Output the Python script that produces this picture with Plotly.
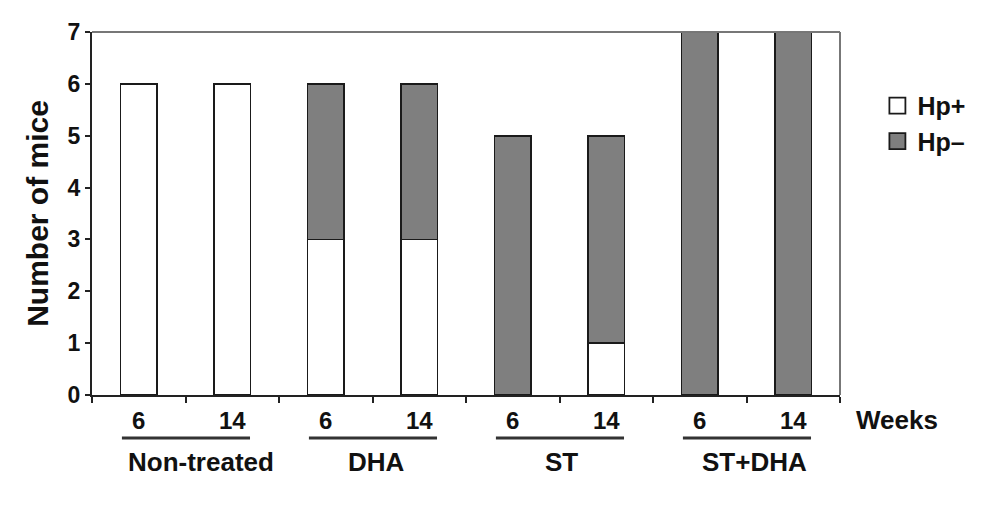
import plotly.graph_objects as go

# ---- data ----
groups = ["Non-treated", "DHA", "ST", "ST+DHA"]
weeks = ["6", "14"]
hp_pos = [6, 6, 3, 3, 0, 1, 0, 0]   # Hp+ (white, bottom)
hp_neg = [0, 0, 3, 3, 5, 4, 7, 7]   # Hp- (gray, top)
y_ticks = [0, 1, 2, 3, 4, 5, 6, 7]

FONT = "Liberation Sans, Arial, sans-serif"
n = len(hp_pos)
xpos = [i + 0.5 for i in range(n)]
bar_w = 0.39
series = [("Hp+", hp_pos, "white"), ("Hp\u2013", hp_neg, "#7f7f7f")]

fig = go.Figure()
for name, vals, col in series:
    fig.add_trace(go.Bar(
        x=xpos, y=vals, width=bar_w, name=name, legendgroup=name, showlegend=False,
        marker=dict(color=col, line=dict(color="#1a1a1a", width=1.6)),
    ))
# legend entries with larger square swatches
for name, vals, col in series:
    fig.add_trace(go.Scatter(
        x=[None], y=[None], mode="markers", name=name, legendgroup=name,
        marker=dict(symbol="square", size=16, color=col, line=dict(color="#1a1a1a", width=1.8)),
    ))

annotations = []
shapes = []
# week labels under each bar
for i in range(n):
    annotations.append(dict(
        x=xpos[i], xref="x", y=0, yref="paper", yshift=-25,
        text="<b>%s</b>" % weeks[i % len(weeks)], showarrow=False,
        font=dict(family=FONT, size=24, color="#111"),
        xanchor="center", yanchor="middle",
    ))
# group underlines and labels
label_shift = [15, 4, 2, 8]
for g, name in enumerate(groups):
    x0 = g * 2 + 0.32
    x1 = g * 2 + 1.69
    shapes.append(dict(
        type="line", xref="x", yref="paper", ysizemode="pixel", yanchor=0,
        x0=x0, x1=x1, y0=-43, y1=-43,
        line=dict(color="#333", width=3),
    ))
    annotations.append(dict(
        x=g * 2 + 1.0, xref="x", y=0, yref="paper", yshift=-67,
        xshift=label_shift[g],
        text="<b>%s</b>" % name, showarrow=False,
        font=dict(family=FONT, size=26, color="#111"),
        xanchor="center", yanchor="middle",
    ))
annotations.append(dict(
    x=1.0, xref="paper", xshift=57, y=0, yref="paper", yshift=-25,
    text="<b>Weeks</b>", showarrow=False,
    font=dict(family=FONT, size=26, color="#111"),
    xanchor="center", yanchor="middle",
))
# top and right frame lines
shapes.append(dict(type="line", xref="paper", yref="paper", x0=0, x1=1, y0=1, y1=1,
                   line=dict(color="#777", width=2)))
shapes.append(dict(type="line", xref="paper", yref="paper", x0=1, x1=1, y0=0, y1=1,
                   line=dict(color="#777", width=2)))

fig.update_layout(
    width=990, height=510,
    margin=dict(l=92, r=150, t=32, b=115),
    barmode="stack",
    plot_bgcolor="white", paper_bgcolor="white",
    font=dict(family=FONT, color="#111"),
    showlegend=True,
    legend=dict(
        x=1.05, y=0.86, xanchor="left", yanchor="top",
        font=dict(family=FONT, size=25, color="#111", weight="bold"),
        traceorder="normal", bgcolor="rgba(0,0,0,0)",
        itemsizing="trace", tracegroupgap=0,
    ),
    annotations=annotations,
    shapes=shapes,
)
fig.update_xaxes(
    range=[0, n], tickvals=list(range(n + 1)), showticklabels=False,
    ticks="outside", ticklen=6, tickwidth=2, tickcolor="#222",
    showline=True, linecolor="#222", linewidth=2, showgrid=False, zeroline=False,
)
fig.update_yaxes(
    range=[0, 7], tickvals=y_ticks, ticktext=["<b>%d</b>" % v for v in y_ticks],
    ticks="outside", ticklen=5, tickwidth=2, tickcolor="#222",
    tickfont=dict(family=FONT, size=23, color="#111"),
    showline=True, linecolor="#222", linewidth=2, showgrid=False, zeroline=False,
    title=dict(text="<b>Number of mice</b>", font=dict(family=FONT, size=30, color="#111"),
               standoff=10),
)

fig.write_html("out.html")
